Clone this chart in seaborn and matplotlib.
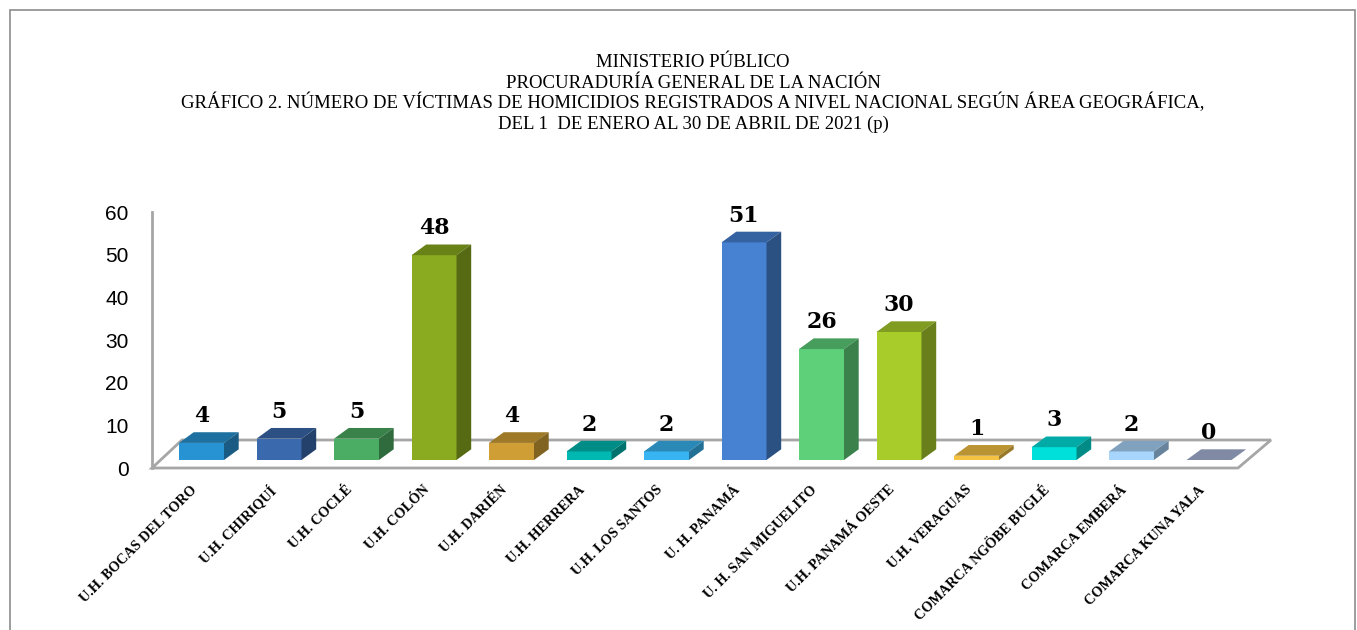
import numpy as np
import pandas as pd
import matplotlib
matplotlib.use("Agg")
import matplotlib.pyplot as plt
import matplotlib.transforms as mtransforms
from matplotlib.patches import Polygon, Rectangle
from matplotlib.colors import to_rgb
import seaborn as sns

# ---------------- data ----------------
categories = [
    "U.H. BOCAS DEL TORO", "U.H. CHIRIQUÍ", "U.H. COCLÉ", "U.H. COLÓN",
    "U.H. DARIÉN", "U.H. HERRERA", "U.H. LOS SANTOS", "U. H. PANAMÁ",
    "U. H. SAN MIGUELITO", "U.H. PANAMÁ OESTE", "U.H. VERAGUAS",
    "COMARCA NGÖBE BUGLÉ", "COMARCA EMBERÁ", "COMARCA KUNA YALA",
]
values = [4, 5, 5, 48, 4, 2, 2, 51, 26, 30, 1, 3, 2, 0]
colors = [
    "#2893d3", "#3a69ad", "#4bad63", "#8aab1f", "#cf9f35", "#00b8b2",
    "#38b4f2", "#4681d2", "#5dd079", "#a8cd2b", "#f5c242", "#00e0da",
    "#a8d5fb", "#a8b6d8",
]
yticks = [0, 10, 20, 30, 40, 50, 60]
title_lines = [
    "MINISTERIO PÚBLICO",
    "PROCURADURÍA GENERAL DE LA NACIÓN",
    "GRÁFICO 2. NÚMERO DE VÍCTIMAS DE HOMICIDIOS REGISTRADOS A NIVEL NACIONAL SEGÚN ÁREA GEOGRÁFICA,",
    "DEL 1  DE ENERO AL 30 DE ABRIL DE 2021 (p)",
]

# ---------------- layout ----------------
W, H, DPI = 1357, 630, 100
sns.set_theme(style="white")
plt.rcParams["font.family"] = ["Liberation Sans", "DejaVu Sans"]

fig = plt.figure(figsize=(W / DPI, H / DPI), dpi=DPI)
fig.patch.set_facecolor("white")

ax_l, ax_r, ax_t, ax_b = 152, 1238, 212, 468
ax = fig.add_axes([ax_l / W, 1 - ax_b / H, (ax_r - ax_l) / W, (ax_b - ax_t) / H])
ax.set_facecolor("none")

px_cat = 77.5          # pixels per category slot
first_c = 201.5        # pixel of first bar centre
ymax = 60
ux = 1 / px_cat
uy = ymax / (ax_b - ax_t)

df = pd.DataFrame({"area": categories, "victimas": values})
bw = 45 / px_cat
sns.barplot(data=df, x="area", y="victimas", hue="area", palette=colors,
            legend=False, width=bw, saturation=1, linewidth=0, ax=ax,
            zorder=3)
bars = list(ax.patches)

x0 = -(first_c - ax_l) / px_cat
x1 = x0 + (ax_r - ax_l) / px_cat
ax.set_xlim(x0, x1)
ax.set_ylim(0, ymax)

# floor (3-D base plane)
floor_dx_l, floor_dx_r, floor_dy = 30 * ux, 33 * ux, 28 * uy
floor = Polygon([(x0, 0), (x1, 0), (x1 + floor_dx_r, floor_dy),
                 (x0 + floor_dx_l, floor_dy)], closed=True, fc="white",
                ec="#a6a6a6", lw=2.0, zorder=1, clip_on=False)
ax.add_patch(floor)

# 3-D bar faces
base = 8 * uy
ddx, ddy = 14.7 * ux, 10.7 * uy
for p, c in zip(bars, colors):
    v = p.get_height()
    p.set_y(base)
    p.set_clip_on(False)
    xl = p.get_x()
    xr = xl + p.get_width()
    top = base + v
    rgb = np.array(to_rgb(c))
    ax.add_patch(Polygon([(xl, top), (xr, top), (xr + ddx, top + ddy),
                          (xl + ddx, top + ddy)], closed=True,
                         fc=rgb * 0.76, ec="none", zorder=3, clip_on=False))
    if v > 0:
        ax.add_patch(Polygon([(xr, base), (xr + ddx, base + ddy),
                              (xr + ddx, top + ddy), (xr, top)], closed=True,
                             fc=rgb * 0.62, ec="none", zorder=3, clip_on=False))
    ax.text(xl + p.get_width() / 2, top + ddy + 5 * uy, f"{int(round(v))}",
            ha="center", va="bottom", fontsize=15.8, fontweight="bold",
            family="DejaVu Serif", color="black", zorder=5, clip_on=False)

# spines
for s in ["top", "right", "bottom"]:
    ax.spines[s].set_visible(False)
ax.spines["left"].set_color("#a6a6a6")
ax.spines["left"].set_linewidth(2.0)
ax.grid(False)

ax.set_yticks(yticks, [str(t) for t in yticks], fontsize=15,
              family="Liberation Sans", color="black")
ax.tick_params(axis="y", length=0, pad=17)
ax.set_xticks(range(len(categories)), categories, rotation=45, ha="right",
              va="top", rotation_mode="anchor", fontsize=10.3,
              fontweight="bold", family="Liberation Serif", color="black")
ax.tick_params(axis="x", length=0, pad=11)
shift = mtransforms.ScaledTranslation(-11 / DPI, 0, fig.dpi_scale_trans)
for lbl in ax.get_xticklabels():
    lbl.set_transform(lbl.get_transform() + shift)
ax.set_xlabel("")
ax.set_ylabel("")

# title
baselines = [67, 87.5, 108, 128.5]
for line, yb in zip(title_lines, baselines):
    fig.text(693 / W, 1 - yb / H, line, ha="center", va="baseline",
             fontsize=13.5, family="Liberation Serif", color="black")

# outer frame
fig.add_artist(Rectangle((10 / W, -0.02), (1355 - 10) / W, 1.02 - 10 / H,
                         transform=fig.transFigure, fill=False,
                         ec="#8c8c8c", lw=1.2))

fig.savefig("out.png", dpi=DPI, facecolor="white")
